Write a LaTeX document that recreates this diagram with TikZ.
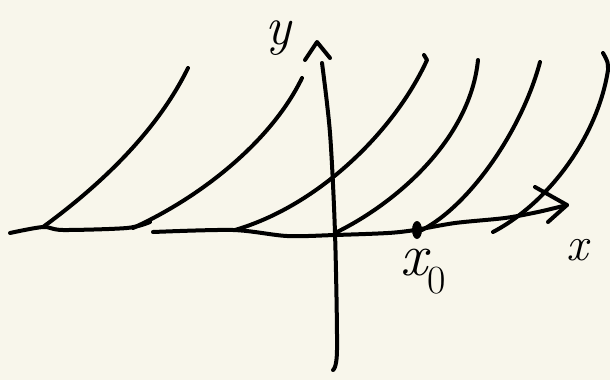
\documentclass[tikz,border=0pt]{standalone}
\usepackage{fontspec}
\usepackage{tikz}
\definecolor{paper}{HTML}{F8F6EB}
\begin{document}
\begin{tikzpicture}[x=1pt,y=-1pt,
  ink/.style={line width=4pt,line cap=round,line join=round,black},
  lbl/.style={inner sep=0pt}]
\fill[paper] (0,0) rectangle (610,380);
\useasboundingbox (0,0) rectangle (610,380);
% x-axis pieces
\draw[ink] plot[smooth] coordinates {(10,233) (43,227) (63,230) (127,228) (150,222)};
\draw[ink] plot[smooth] coordinates {(153,232) (233,230) (287,236) (335,235) (388,233) (415,230) (455,223) (505,218) (538,212) (567,205)};
% x arrowhead
\coordinate (xtip) at (567,205);
\draw[ink] (535,187) -- (xtip) -- (548,222);
% y-axis
\coordinate (ybot) at (333,370);
\coordinate (ytop) at (322,63);
\draw[ink] plot[smooth] coordinates {(ybot) (337,350) (335,233) (330,133) (ytop)};
\draw[ink] (305,60) -- (317,42) -- (330,58);
% curves
\draw[ink] (43,227) .. controls (110,178) and (160,125) .. (188,68);
\draw[ink] (133,228) .. controls (203,196) and (272,140) .. (302,78);
\draw[ink] (235,230) .. controls (320,205) and (395,130) .. (427,60) -- (424,55);
\draw[ink] (335,233) .. controls (395,204) and (470,140) .. (478,60);
\draw[ink] (422,230) .. controls (470,205) and (522,130) .. (540,62);
\draw[ink] (493,232) .. controls (550,202) and (598,135) .. (608,70) .. controls (608,62) .. (603,53);
% point x0
\fill (417,230) ellipse [x radius=5pt, y radius=9pt];
\node[circle,inner sep=0pt,minimum size=2pt] (x0pt) at (417,230) {};
% labels
\node[lbl,font=\fontsize{54}{58}\selectfont\itshape] (ylab) at (278,38) {y};
\node[lbl,font=\fontsize{48}{52}\selectfont\itshape] (xlab) at (577,250) {x};
\node[lbl,font=\fontsize{60}{64}\selectfont\itshape] (x0lab) at (423,272) {x\raisebox{-0.3em}{\fontsize{40}{40}\selectfont\upshape 0}};
\end{tikzpicture}
\end{document}
